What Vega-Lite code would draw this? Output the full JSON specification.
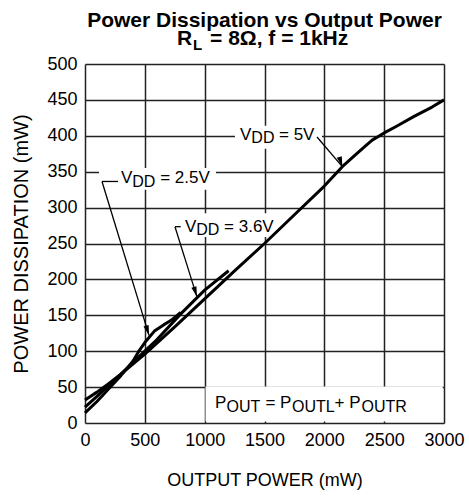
{
  "$schema": "https://vega.github.io/schema/vega-lite/v6.json",
  "width": 359,
  "height": 359,
  "autosize": {"type": "none"},
  "padding": {"left": 85, "top": 64, "right": 25, "bottom": 73},
  "title": {"text": "Power Dissipation vs Output Power", "fontSize": 21, "fontWeight": "bold", "offset": -3, "color": "#000", "anchor": "middle", "frame": "group"},
  "config": {"font": "Liberation Sans", "view": {"stroke": null}},
  "datasets": {
    "curves": [
      {"series": "5V", "x": 0, "y": 32}, {"series": "5V", "x": 100, "y": 43}, {"series": "5V", "x": 200, "y": 55}, {"series": "5V", "x": 300, "y": 68}, {"series": "5V", "x": 400, "y": 82}, {"series": "5V", "x": 500, "y": 96}, {"series": "5V", "x": 750, "y": 134}, {"series": "5V", "x": 1000, "y": 173}, {"series": "5V", "x": 1250, "y": 212}, {"series": "5V", "x": 1500, "y": 250}, {"series": "5V", "x": 1750, "y": 290}, {"series": "5V", "x": 2000, "y": 330}, {"series": "5V", "x": 2150, "y": 357}, {"series": "5V", "x": 2250, "y": 372}, {"series": "5V", "x": 2330, "y": 384}, {"series": "5V", "x": 2400, "y": 394}, {"series": "5V", "x": 2500, "y": 404}, {"series": "5V", "x": 2600, "y": 413}, {"series": "5V", "x": 2750, "y": 427}, {"series": "5V", "x": 2900, "y": 440}, {"series": "5V", "x": 3000, "y": 450},
      {"series": "3.6V", "x": 0, "y": 22}, {"series": "3.6V", "x": 100, "y": 37}, {"series": "3.6V", "x": 200, "y": 53}, {"series": "3.6V", "x": 300, "y": 68}, {"series": "3.6V", "x": 400, "y": 84}, {"series": "3.6V", "x": 500, "y": 100}, {"series": "3.6V", "x": 600, "y": 116}, {"series": "3.6V", "x": 800, "y": 152}, {"series": "3.6V", "x": 1000, "y": 185}, {"series": "3.6V", "x": 1200, "y": 212},
      {"series": "2.5V", "x": 0, "y": 14}, {"series": "2.5V", "x": 100, "y": 30}, {"series": "2.5V", "x": 200, "y": 48}, {"series": "2.5V", "x": 300, "y": 66}, {"series": "2.5V", "x": 400, "y": 86}, {"series": "2.5V", "x": 450, "y": 100}, {"series": "2.5V", "x": 500, "y": 112}, {"series": "2.5V", "x": 580, "y": 128}, {"series": "2.5V", "x": 660, "y": 137}, {"series": "2.5V", "x": 720, "y": 143}, {"series": "2.5V", "x": 800, "y": 154}
    ],
    "boxes": [
      {"x": 1253, "x2": 1980, "y": 382, "y2": 414},
      {"x": 719, "x2": 1621, "y": 259, "y2": 292},
      {"x": 117, "x2": 1095, "y": 325, "y2": 355},
      {"x": 1007, "x2": 2990, "y": 2, "y2": 51}
    ],
    "leaders": [
      {"label": "5V", "x": 1939, "y": 398.3, "x2": 2150, "y2": 357},
      {"label": "3.6V", "x": 752, "y": 273.4, "x2": 935, "y2": 176},
      {"label": "3.6V", "x": 752, "y": 273.4, "x2": 800, "y2": 273.4},
      {"label": "2.5V", "x": 142, "y": 336.4, "x2": 535, "y2": 122},
      {"label": "2.5V", "x": 142, "y": 336.4, "x2": 276, "y2": 336.4}
    ],
    "tips": [
      {"label": "5V", "x": 2150, "y": 357},
      {"label": "3.6V", "x": 935, "y": 176},
      {"label": "2.5V", "x": 535, "y": 122}
    ],
    "annoMain": [
      {"x": 1295, "y": 394.2, "text": "V"}, {"x": 1621, "y": 394.2, "text": "= 5V"},
      {"x": 836, "y": 266.4, "text": "V"}, {"x": 1162, "y": 266.4, "text": "= 3.6V"},
      {"x": 301, "y": 333.8, "text": "V"}, {"x": 628, "y": 333.8, "text": "= 2.5V"},
      {"x": 1086, "y": 20.5, "text": "P"}, {"x": 1508, "y": 20.5, "text": "= P"}, {"x": 2085, "y": 20.5, "text": "+ P"}
    ],
    "annoSub": [
      {"x": 1390, "y": 389.3, "text": "DD"},
      {"x": 930, "y": 261.8, "text": "DD"},
      {"x": 395, "y": 329.0, "text": "DD"},
      {"x": 1182, "y": 15.7, "text": "OUT"}, {"x": 1730, "y": 15.7, "text": "OUTL"}, {"x": 2311, "y": 15.7, "text": "OUTR"}
    ],
    "subMain": [
      {"x": 769, "y": 526.5, "text": "R"}, {"x": 1045, "y": 526.5, "text": "= 8Ω, f = 1kHz"}
    ],
    "subSub": [
      {"x": 902, "y": 519.5, "text": "L"}
    ],
    "xticks": [{"x": 500}, {"x": 1000}, {"x": 1500}, {"x": 2000}, {"x": 2500}]
  },
  "encoding": {
    "x": {"field": "x", "type": "quantitative", "scale": {"domain": [0, 3000], "nice": false},
      "axis": {"title": "OUTPUT POWER (mW)", "values": [0, 500, 1000, 1500, 2000, 2500, 3000], "format": "d", "labelFlush": false, "labelFontSize": 18, "titleFontSize": 18, "titleFontWeight": "normal", "labelColor": "#000", "titleColor": "#000", "labelPadding": 8, "titlePadding": 22, "ticks": false, "domain": false, "grid": true, "gridColor": "#222", "gridWidth": 1.5, "gridOpacity": 1}},
    "y": {"field": "y", "type": "quantitative", "scale": {"domain": [0, 500], "nice": false},
      "axis": {"title": "POWER DISSIPATION (mW)", "values": [0, 50, 100, 150, 200, 250, 300, 350, 400, 450, 500], "format": "d", "labelFlush": false, "labelFontSize": 18, "titleFontSize": 20, "titleFontWeight": "normal", "labelColor": "#000", "titleColor": "#000", "labelPadding": 8, "titlePadding": 15, "ticks": false, "domain": false, "grid": true, "gridColor": "#222", "gridWidth": 1.5, "gridOpacity": 1}}
  },
  "layer": [
    {"data": {"name": "boxes"}, "mark": {"type": "rect", "fill": "white", "strokeWidth": 0}, "encoding": {"x2": {"field": "x2"}, "y2": {"field": "y2"}}},
    {"data": {"name": "curves"}, "mark": {"type": "line", "color": "black", "strokeWidth": 3, "strokeJoin": "round"}, "encoding": {"detail": {"field": "series", "type": "nominal"}}},
    {"data": {"name": "leaders"}, "mark": {"type": "rule", "color": "black", "strokeWidth": 1.3}, "encoding": {"x2": {"field": "x2"}, "y2": {"field": "y2"}}},
    {"data": {"name": "tips"}, "mark": {"type": "point", "shape": "M0,0L0.4,1.5L-0.4,1.5Z", "filled": true, "color": "black", "opacity": 1, "size": 180},
      "encoding": {"angle": {"field": "label", "type": "nominal", "scale": {"domain": ["2.5V", "3.6V", "5V"], "range": [163, 162.6, 139.6]}, "legend": null}}},
    {"data": {"name": "annoMain"}, "mark": {"type": "text", "fontSize": 17, "align": "left", "baseline": "alphabetic", "color": "black"}, "encoding": {"text": {"field": "text"}}},
    {"data": {"name": "annoSub"}, "mark": {"type": "text", "fontSize": 16, "align": "left", "baseline": "alphabetic", "color": "black"}, "encoding": {"text": {"field": "text"}}},
    {"data": {"name": "subMain"}, "mark": {"type": "text", "fontSize": 21, "fontWeight": "bold", "align": "left", "baseline": "alphabetic", "color": "black"}, "encoding": {"text": {"field": "text"}}},
    {"data": {"name": "subSub"}, "mark": {"type": "text", "fontSize": 15, "fontWeight": "bold", "align": "left", "baseline": "alphabetic", "color": "black"}, "encoding": {"text": {"field": "text"}}},
    {"data": {"name": "xticks"}, "mark": {"type": "rule", "color": "black", "strokeWidth": 1.5}, "encoding": {"y": {"datum": 0}, "y2": {"datum": 7}}},
    {"data": {"values": [{}]}, "mark": {"type": "rect", "filled": false, "stroke": "black", "strokeWidth": 2}, "encoding": {"x": {"datum": 0}, "x2": {"datum": 3000}, "y": {"datum": 0}, "y2": {"datum": 500}}}
  ]
}
